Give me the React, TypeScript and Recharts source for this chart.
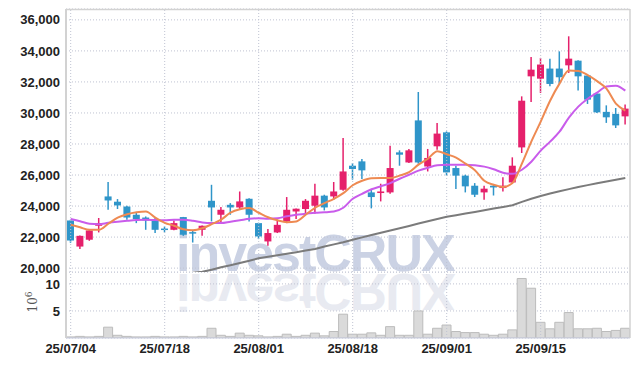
import React from 'react';
import { ComposedChart, Bar, Line, XAxis, YAxis, CartesianGrid, ReferenceLine } from 'recharts';

const dates = [
  '25/07/04', '25/07/07', '25/07/08', '25/07/09', '25/07/10', '25/07/11', '25/07/14', '25/07/15', '25/07/16', '25/07/17',
  '25/07/18', '25/07/21', '25/07/22', '25/07/23', '25/07/24', '25/07/25', '25/07/28', '25/07/29', '25/07/30', '25/07/31',
  '25/08/01', '25/08/04', '25/08/05', '25/08/06', '25/08/07', '25/08/08', '25/08/11', '25/08/12', '25/08/13', '25/08/14',
  '25/08/18', '25/08/19', '25/08/20', '25/08/21', '25/08/22', '25/08/25', '25/08/26', '25/08/27', '25/08/28', '25/08/29',
  '25/09/01', '25/09/02', '25/09/03', '25/09/04', '25/09/05', '25/09/08', '25/09/09', '25/09/10', '25/09/11', '25/09/12',
  '25/09/15', '25/09/16', '25/09/17', '25/09/18', '25/09/19', '25/09/22', '25/09/23', '25/09/24', '25/09/25', '25/09/26',
];

const opens = [
  23070, 21390, 21830, 22730, 24620, 24280, 23970, 23440, 23260, 23160,
  22550, 22470, 23290, 22320, 22470, 24340, 23440, 24080, 23910, 24470,
  22900, 21720, 22300, 23010, 23650, 23810, 24020, 24670, 24620, 25050,
  26600, 26880, 24880, 24840, 24880, 27460, 26810, 29520, 26550, 27850,
  28750, 26450, 25960, 25310, 24880, 25310, 25160, 25520, 27780, 32360,
  32210, 32860, 32860, 33070, 33370, 32410, 31250, 30070, 29940, 29780,
];
const highs = [
  23120, 22100, 22470, 23230, 25550, 24450, 24020, 23550, 23330, 23230,
  22680, 23070, 23300, 22470, 22750, 25370, 23940, 24190, 24940, 24500,
  22930, 22520, 23120, 24580, 23850, 24450, 25440, 24730, 25550, 28390,
  26770, 27030, 25100, 25440, 27890, 27590, 27680, 31350, 27680, 29350,
  28810, 26600, 26020, 25480, 25310, 25420, 25850, 27140, 31070, 33610,
  33550, 33500, 33970, 34940, 33400, 32470, 31260, 30490, 30320, 30540,
];
const lows = [
  21630, 21230, 21760, 22300, 23760, 23810, 23120, 22900, 22470, 22260,
  22300, 22440, 22080, 21650, 22080, 23010, 22900, 23440, 23760, 23010,
  21870, 21440, 22260, 22900, 23160, 23440, 23500, 23720, 24410, 24990,
  25700, 25740, 23850, 24300, 24790, 26600, 26770, 26730, 26230, 27630,
  25960, 25100, 24880, 24580, 24410, 24680, 24940, 25480, 27420, 30710,
  31290, 31720, 31870, 32580, 31440, 30580, 30000, 29360, 29030, 29250,
];
const closes = [
  21780, 22080, 22430, 22900, 24360, 24040, 23260, 23160, 23070, 22470,
  22520, 22900, 22150, 22260, 22730, 23910, 23760, 23910, 24300, 23440,
  22040, 22260, 22790, 23760, 23830, 24340, 24670, 23910, 24940, 26230,
  26390, 26300, 24580, 24940, 26450, 27310, 27590, 26810, 27100, 28670,
  26170, 25960, 25270, 24730, 25120, 25200, 25310, 26600, 30790, 32790,
  33120, 31870, 32300, 33500, 32360, 30860, 30040, 29720, 29200, 30280,
];

// moving averages as drawn on the chart
const ma5 = [
  22790, 22630, 22470, 22470, 22860, 23250, 23470, 23600, 23650, 23250,
  22920, 22730, 22500, 22440, 22570, 22830, 23120, 23570, 23790, 23870,
  23570, 23280, 23080, 22960, 23010, 23440, 23890, 24190, 24470, 24830,
  25340, 25630, 25790, 25810, 25810, 25960, 26180, 26670, 27050, 27540,
  27340, 27120, 26730, 26310, 25630, 25370, 25230, 25480, 26730, 28150,
  29440, 30790, 31890, 32730, 32700, 32440, 32050, 31570, 30600, 30150,
];
const ma20 = [
  23160, 23020, 22860, 22830, 22920, 22990, 23050, 23100, 23120, 23100,
  23080, 23120, 23120, 23050, 22940, 22900, 22900, 22990, 23080, 23180,
  23210, 23180, 23210, 23340, 23440, 23500, 23570, 23600, 23650, 23890,
  24470, 24790, 25080, 25280, 25480, 25760, 26020, 26280, 26470, 26630,
  26670, 26670, 26670, 26630, 26540, 26370, 26150, 26080, 26340, 26860,
  27570, 28150, 28790, 29700, 30410, 30920, 31310, 31700, 31760, 31440,
];
const ma60 = [
  null, null, null, null, null, null, null, null, null, null,
  null, null, null, 19700, 19760, 19900, 20050, 20190, 20330, 20470,
  20630, 20730, 20830, 20930, 21030, 21130, 21230, 21390, 21530, 21670,
  21830, 21980, 22130, 22280, 22430, 22570, 22720, 22870, 23020, 23170,
  23310, 23410, 23520, 23620, 23730, 23840, 23940, 24050, 24270, 24470,
  24650, 24810, 24950, 25090, 25230, 25350, 25470, 25580, 25700, 25810,
];

// volume, millions of shares
const volumes = [
  0.2, 0.3, 0.2, 0.3, 2.0, 0.5, 0.3, 0.2, 0.2, 0.3,
  0.2, 0.2, 0.3, 0.2, 0.3, 1.8, 0.5, 0.3, 0.9, 0.5,
  0.4, 0.2, 0.3, 0.7, 0.3, 0.5, 0.9, 0.4, 1.2, 4.4,
  0.7, 0.7, 0.95, 0.5, 2.1, 0.5, 0.5, 5.0, 0.7, 1.8,
  2.4, 1.2, 1.0, 1.0, 0.7, 0.5, 0.7, 1.5, 11.0, 9.2,
  2.9, 1.7, 2.9, 4.7, 1.7, 1.7, 1.8, 1.2, 1.4, 1.8,
];

const dateTicks = ['25/07/04', '25/07/18', '25/08/01', '25/08/18', '25/09/01', '25/09/15'];
const priceTicks = [20000, 22000, 24000, 26000, 28000, 30000, 32000, 34000, 36000];
const volumeTicks = [5, 10];

const data = dates.map((date, i) => ({
  date,
  open: opens[i],
  high: highs[i],
  low: lows[i],
  close: closes[i],
  ma5: ma5[i],
  ma20: ma20[i],
  ma60: ma60[i],
  volume: volumes[i],
}));

const RED = '#e5206b';
const BLUE = '#2f95c9';
const GRID = '#bfc3d2';
const FRAME = '#d2d2d2';
const tickStyle = { fontFamily: 'Liberation Sans, Arial, sans-serif', fontSize: 13, fontWeight: 700, fill: '#222' };
const markFont = 'Liberation Sans, Arial, sans-serif';

const Candle = (props: any) => {
  const { x, y, width, height, payload } = props;
  const { open, close, high, low } = payload;
  const top = Math.min(y, y + height);
  const h = Math.abs(height);
  const toY = (v: number) => top + ((high - v) / (high - low)) * h;
  const color = close >= open ? RED : BLUE;
  const bTop = toY(Math.max(open, close));
  const bBot = toY(Math.min(open, close));
  const cx = x + width / 2;
  return (
    <g>
      <line x1={cx} x2={cx} y1={top} y2={top + h} stroke={color} strokeWidth={1.5} />
      <rect x={x} y={bTop} width={width} height={Math.max(bBot - bTop, 1.5)} fill={color} />
    </g>
  );
};

export default function App() {
  return (
    <div style={{ position: 'absolute', left: 0, top: 0, width: 639, height: 366, background: '#fff', overflow: 'hidden' }}>
      {/* watermark and its reflection */}
      <svg width={639} height={366} style={{ position: 'absolute', left: 0, top: 0 }}>
        <text x={176} y={271} fontFamily={markFont} fontWeight={700} fontSize={52} letterSpacing={-2} fill="#cbd2e4">
          investCRUX
        </text>
        <text x={176} y={272} transform="translate(0 546) scale(1 -1)" fontFamily={markFont} fontWeight={700} fontSize={52} letterSpacing={-2} fill="#e8eaf1">
          investCRUX
        </text>
      </svg>

      <div style={{ position: 'absolute', left: 0, top: 0 }}>
        <ComposedChart width={639} height={284} data={data} margin={{ top: 9, right: 9, bottom: 12, left: 0 }}>
          <CartesianGrid vertical={false} stroke={GRID} strokeDasharray="1 2" />
          {dateTicks.map((d) => (
            <ReferenceLine key={d} x={d} stroke={GRID} strokeDasharray="1 2" />
          ))}
          <XAxis dataKey="date" height={0} tick={false} tickLine={false} axisLine={{ stroke: FRAME, strokeWidth: 1.5 }} />
          <YAxis
            domain={[19750, 36700]}
            ticks={priceTicks}
            interval={0}
            allowDataOverflow
            width={66}
            tickSize={0}
            tickMargin={6}
            tickLine={false}
            axisLine={{ stroke: FRAME, strokeWidth: 2 }}
            tick={tickStyle}
            tickFormatter={(v: number) => v.toLocaleString('en-US')}
          />
          <Line dataKey="ma60" stroke="#7b7b7b" strokeWidth={2} dot={false} isAnimationActive={false} />
          <Bar dataKey={(d: any) => [d.low, d.high]} barSize={7} shape={<Candle />} isAnimationActive={false} />
          <Line type="monotone" dataKey="ma20" stroke="#c95ceb" strokeWidth={2} dot={false} isAnimationActive={false} />
          <Line type="monotone" dataKey="ma5" stroke="#ee8a52" strokeWidth={2} dot={false} isAnimationActive={false} />
        </ComposedChart>
      </div>

      <div style={{ position: 'absolute', left: 0, top: 272 }}>
        <ComposedChart width={639} height={94} data={data} margin={{ top: 0, right: 9, bottom: 0, left: 0 }} barCategoryGap={0}>
          <CartesianGrid vertical={false} stroke={GRID} strokeDasharray="1 2" />
          {dateTicks.map((d) => (
            <ReferenceLine key={d} x={d} stroke={GRID} strokeDasharray="1 2" />
          ))}
          <XAxis
            dataKey="date"
            ticks={dateTicks}
            interval={0}
            height={28}
            tickSize={0}
            tickMargin={6}
            tickLine={false}
            axisLine={{ stroke: '#c9cde0' }}
            tick={tickStyle}
          />
          <YAxis
            domain={[0, 12.2]}
            ticks={volumeTicks}
            interval={0}
            allowDataOverflow
            width={66}
            tickSize={0}
            tickMargin={6}
            tickLine={false}
            axisLine={{ stroke: FRAME, strokeWidth: 2 }}
            tick={tickStyle}
          />
          <Bar dataKey="volume" fill="#dadada" stroke="#bcbcbc" strokeWidth={1} isAnimationActive={false} />
        </ComposedChart>
      </div>

      <svg width={639} height={366} style={{ position: 'absolute', left: 0, top: 0, pointerEvents: 'none' }}>
        <line x1={66} x2={630} y1={9.5} y2={9.5} stroke={FRAME} strokeWidth={1.5} />
        <line x1={630} x2={630} y1={9} y2={338} stroke={FRAME} strokeWidth={1.5} />
        <text transform="translate(37 302) rotate(-90)" textAnchor="middle" fontFamily="DejaVu Serif, serif" fontSize={12} fill="#555">
          10<tspan dy={-5} fontSize={9}>6</tspan>
        </text>
      </svg>
    </div>
  );
}
